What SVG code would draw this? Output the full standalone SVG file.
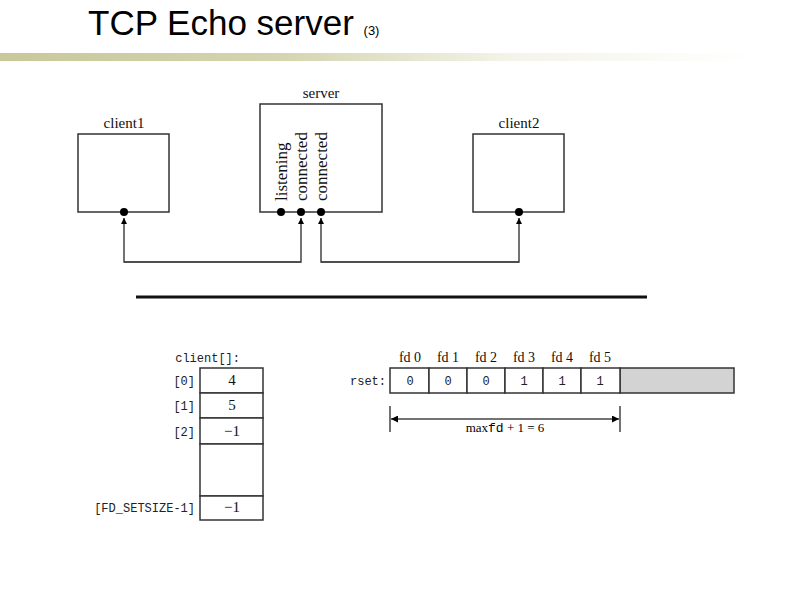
<svg xmlns="http://www.w3.org/2000/svg" width="794" height="595" viewBox="0 0 794 595">
<defs>
<linearGradient id="g" x1="0" x2="1"><stop offset="0" stop-color="#c8c89a"/><stop offset="0.35" stop-color="#d4d4b0"/><stop offset="0.65" stop-color="#f4f4ea"/><stop offset="0.95" stop-color="#fff"/></linearGradient>
<marker id="ah" viewBox="0 0 10 10" refX="10" refY="5" markerWidth="6" markerHeight="8" orient="auto" markerUnits="userSpaceOnUse"><path d="M0,0L10,5L0,10z" fill="#000"/></marker>
<marker id="dm" viewBox="0 0 10 10" refX="10" refY="5" markerWidth="12" markerHeight="7" orient="auto-start-reverse" markerUnits="userSpaceOnUse"><path d="M0,0L10,5L0,10z" fill="#000"/></marker>
</defs>
<style>
.b{fill:#fff;stroke:#333;stroke-width:1.5}
.s{font-family:"Liberation Serif",serif;font-size:15px;fill:#111}
.v{font-size:17px}
.f{font-size:14px}
.m{font-family:"Liberation Mono",monospace;font-size:12px;fill:#222}
.c{stroke:#444;stroke-width:1.5;fill:none}
</style>
<rect width="794" height="595" fill="#fff"/>
<text x="88" y="35" font-family="Liberation Sans,sans-serif" font-size="35" fill="#000">TCP Echo server <tspan font-size="13">(3)</tspan></text>
<rect x="0" y="53" width="794" height="8" fill="url(#g)"/>
<g id="client1"><rect class="b" x="78" y="134" width="91" height="78"/><text class="s" x="124" y="128" text-anchor="middle">client1</text><circle cx="124" cy="212" r="4"/></g>
<g id="server"><rect class="b" x="260" y="104" width="122" height="108"/><text class="s" x="321" y="98" text-anchor="middle">server</text>
<g class="s"><text class="v" transform="translate(287,201) rotate(-90)">listening</text>
<text class="v" transform="translate(307,201) rotate(-90)">connected</text>
<text class="v" transform="translate(327,201) rotate(-90)">connected</text></g>
<circle cx="281" cy="212" r="4"/><circle cx="301" cy="212" r="4"/><circle cx="321" cy="212" r="4"/></g>
<g id="client2"><rect class="b" x="473" y="134" width="91" height="78"/><text class="s" x="519" y="128" text-anchor="middle">client2</text><circle cx="519" cy="212" r="4"/></g>
<g id="connectors">
<path class="c" d="M301,262H124V218" marker-end="url(#ah)"/>
<path class="c" d="M124,262H301V218" marker-end="url(#ah)"/>
<path class="c" d="M519,262H321V218" marker-end="url(#ah)"/>
<path class="c" d="M321,262H519V218" marker-end="url(#ah)"/>
</g>
<line x1="136" y1="297" x2="647" y2="297" stroke="#111" stroke-width="3"/>
<g id="client-array">
<text class="m" x="240" y="362" text-anchor="end">client[]:</text>
<g class="b"><rect x="200" y="368" width="63" height="25"/><rect x="200" y="393" width="63" height="25"/><rect x="200" y="418" width="63" height="26"/><rect x="200" y="444" width="63" height="52"/><rect x="200" y="496" width="63" height="24"/></g>
<g class="m" text-anchor="end"><text x="195" y="385">[0]</text><text x="195" y="410">[1]</text><text x="195" y="436">[2]</text><text x="195" y="512">[FD_SETSIZE-1]</text></g>
<g class="s" text-anchor="middle"><text x="232" y="385">4</text><text x="232" y="410">5</text><text x="232" y="436">−1</text><text x="232" y="512">−1</text></g>
</g>
<g id="rset">
<text class="m" x="386" y="385" text-anchor="end">rset:</text>
<rect x="620" y="368" width="114" height="25" fill="#d3d3d3" stroke="#333" stroke-width="1.5"/>
<g class="b"><rect x="390" y="368" width="39" height="25"/><rect x="429" y="368" width="38" height="25"/><rect x="467" y="368" width="38" height="25"/><rect x="505" y="368" width="38" height="25"/><rect x="543" y="368" width="38" height="25"/><rect x="581" y="368" width="39" height="25"/></g>
<g class="s" text-anchor="middle"><text class="f" x="410" y="362">fd 0</text><text class="f" x="448" y="362">fd 1</text><text class="f" x="486" y="362">fd 2</text><text class="f" x="524" y="362">fd 3</text><text class="f" x="562" y="362">fd 4</text><text class="f" x="600" y="362">fd 5</text></g>
<g class="m" text-anchor="middle"><text x="410" y="385">0</text><text x="448" y="385">0</text><text x="486" y="385">0</text><text x="524" y="385">1</text><text x="562" y="385">1</text><text x="600" y="385">1</text></g>
<path class="c" d="M390,406V432M620,406V432"/>
<line class="c" x1="391" y1="419" x2="619" y2="419" marker-start="url(#dm)" marker-end="url(#dm)"/>
<text x="505" y="432" text-anchor="middle" font-family="Liberation Serif,serif" font-size="13">max<tspan font-family="Liberation Mono,monospace">fd</tspan> + 1 = 6</text>
</g>
</svg>
